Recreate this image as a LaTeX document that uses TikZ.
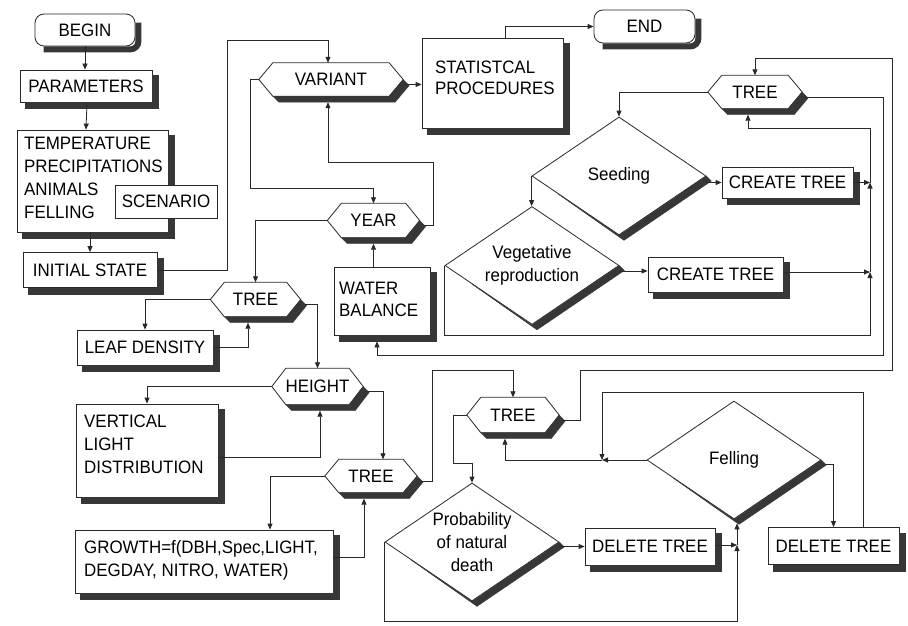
\documentclass[tikz,border=0pt]{standalone}
\usepackage{fontspec}
\setmainfont{Liberation Sans}[FakeStretch=0.94]
\usetikzlibrary{shapes.geometric,arrows.meta,calc}
\definecolor{shadowc}{RGB}{55,55,55}
\definecolor{linec}{RGB}{40,40,40}
\newcommand\dsz{\fontsize{18}{23}\selectfont}
\tikzset{
  outl/.style={line width=0.8pt, draw=linec},
  base/.style={font=\dsz, outl, fill=white, inner sep=0pt, text=black},
  box/.style={base, rectangle},
  rbox/.style={base, rectangle, rounded corners=9pt},
  hexn/.style={font=\dsz, rectangle, inner sep=0pt, text=black},
  dia/.style={base, diamond, aspect=1.47, minimum width=174pt, minimum height=118pt, align=center},
  txt/.style={font=\dsz, align=left, inner sep=0pt, text=black},
  shband/.style={fill=shadowc, draw=shadowc, line width=0.3pt},
  arr/.style={-{Triangle[length=6pt,width=5pt]}, line width=0.8pt, draw=linec}
}
% shadow bands drawn outside the shapes (right and lower sides)
\newcommand\BoxShadow[1]{\path[shband] ($(#1.north east)+(0pt,-6pt)$) -- ($(#1.north east)+(6pt,-6pt)$) -- ($(#1.south east)+(6pt,-6pt)$) -- ($(#1.south west)+(6pt,-6pt)$) -- ($(#1.south west)+(6pt,0pt)$) -- (#1.south east) -- cycle;}
\newcommand\RBoxShadow[1]{\draw[draw=shadowc, line width=6pt, rounded corners=8pt] ($(#1.north east)+(3pt,-9pt)$) -- ($(#1.south east)+(3pt,-3pt)$) -- ($(#1.south west)+(9pt,-3pt)$);}
\newcommand\DiaShadow[1]{\path[shband] (#1.east) -- ($(#1.east)+(5pt,-5pt)$) -- ($(#1.south)+(5pt,-5pt)$) -- ($(#1.west)!0.3!(#1.south)$) -- (#1.south) -- cycle;}
\newcommand\HexShadow[1]{\path[shband] (#1.east) -- ($(#1.east)+(6pt,-6pt)$) -- ($(#1.south east)+(-8pt,-6pt)$) -- ($(#1.south west)+(20pt,-6pt)$) -- ($(#1.south west)+(14pt,0pt)$) -- ($(#1.south east)+(-14pt,0pt)$) -- cycle;}
\newcommand\HexDraw[1]{\draw[outl] (#1.west) -- ($(#1.north west)+(14pt,0pt)$) -- ($(#1.north east)+(-14pt,0pt)$) -- (#1.east) -- ($(#1.south east)+(-14pt,0pt)$) -- ($(#1.south west)+(14pt,0pt)$) -- cycle;}
\begin{document}
\begin{tikzpicture}[x=1pt,y=-1pt]
\useasboundingbox (0,0) rectangle (908,626);
% left column
\node[rbox, minimum width=100pt, minimum height=32pt] (begin) at (85,30) {BEGIN};
\node[box, minimum width=132pt, minimum height=32pt] (params) at (86,86) {PARAMETERS};
\node[box, minimum width=151pt, minimum height=102pt] (climate) at (92.5,181) {};
\BoxShadow{climate}
\node[txt, anchor=north west] (climateT) at (24,136.5) {TEMPERATURE\\PRECIPITATIONS\\ANIMALS\\FELLING};
\node[box, minimum width=102pt, minimum height=33pt] (scen) at (166,201.5) {SCENARIO};
\node[box, minimum width=134pt, minimum height=35pt] (initial) at (90,270) {INITIAL STATE};
% top
\node[hexn, minimum width=144pt, minimum height=33pt] (variant) at (331,79.5) {VARIANT};
\node[box, minimum width=141pt, minimum height=90pt] (stat) at (492.5,83) {};
\node[txt, anchor=north west] (statT) at (435,60.5) {STATISTCAL\\[-2pt]PROCEDURES};
\node[rbox, minimum width=101pt, minimum height=33pt] (end) at (644.5,26.5) {END};
% right top
\node[hexn, minimum width=94pt, minimum height=33pt] (treeA) at (755,92) {TREE};
\node[dia] (seed) at (619,176) {Seeding};
\node[box, minimum width=131pt, minimum height=31pt] (create1) at (787.5,182.5) {CREATE TREE};
\node[dia] (veg) at (532,265.5) {Vegetative\\reproduction};
\node[box, minimum width=135pt, minimum height=35pt] (create2) at (715.5,274.5) {CREATE TREE};
% middle
\node[hexn, minimum width=92pt, minimum height=34pt] (year) at (373.5,220.5) {YEAR};
\node[box, minimum width=96pt, minimum height=68pt] (water) at (382,301) {};
\node[txt, anchor=north west] (waterT) at (339,281.5) {WATER\\[-1pt]BALANCE};
\node[hexn, minimum width=90pt, minimum height=34pt] (tree2) at (255.5,299.5) {TREE};
\node[box, minimum width=136pt, minimum height=35pt] (leaf) at (145,347.5) {LEAF DENSITY};
\node[hexn, minimum width=91pt, minimum height=36pt] (height) at (317.5,386.5) {HEIGHT};
\node[box, minimum width=142pt, minimum height=93pt] (vertical) at (147,450.5) {};
\node[txt, anchor=north west] (verticalT) at (84,414.5) {VERTICAL\\LIGHT\\DISTRIBUTION};
\node[hexn, minimum width=92pt, minimum height=33pt] (tree3) at (371,476) {TREE};
\node[box, minimum width=258pt, minimum height=63pt] (growth) at (204,561.5) {};
\node[txt, anchor=north west] (growthT) at (84,540) {GROWTH=f(DBH,Spec,LIGHT,\\DEGDAY, NITRO, WATER)};
% bottom right
\node[hexn, minimum width=92pt, minimum height=35pt] (tree4) at (513,415) {TREE};
\node[dia] (prob) at (472,542) {Probability\\of natural\\death};
\node[box, minimum width=130pt, minimum height=37pt] (del1) at (650,546.5) {DELETE TREE};
\node[dia] (fell) at (734,460) {Felling};
\node[box, minimum width=131pt, minimum height=37pt] (del2) at (833.5,546) {DELETE TREE};
% hexagon outlines and shadows
\HexDraw{variant} \HexDraw{treeA} \HexDraw{year} \HexDraw{tree2}
\HexDraw{height} \HexDraw{tree3} \HexDraw{tree4}
\HexShadow{variant} \HexShadow{treeA} \HexShadow{year} \HexShadow{tree2}
\HexShadow{height} \HexShadow{tree3} \HexShadow{tree4}
\RBoxShadow{begin} \RBoxShadow{end}
\BoxShadow{params} \BoxShadow{initial} \BoxShadow{stat}
\BoxShadow{create1} \BoxShadow{create2} \BoxShadow{water} \BoxShadow{leaf}
\BoxShadow{vertical} \BoxShadow{growth} \BoxShadow{del1} \BoxShadow{del2}
\DiaShadow{seed} \DiaShadow{veg} \DiaShadow{prob} \DiaShadow{fell}
% junctions
\coordinate (j1) at (870,182.5);
\coordinate (j2) at (870,272);
\coordinate (j3) at (737,545);
\coordinate (j4) at (602,460);
% connectors
\draw[arr] (begin.south) -- (begin.south |- params.north);
\draw[arr] (params.south -| 87,0) -- (params.north |- climate.north);
\draw[arr] (climate.south -| 90,0) -- (initial.north);
\draw[arr] (initial.east) -| (227,40) -| (variant.north -| 328,0);
\draw[arr] ([shift={(3pt,-5pt)}]variant.east) -- (stat.west |- 0,84.5);
\draw[arr] (stat.north -| 505,0) |- (end.west);
\draw[arr] (variant.west) -| (250,188) -| (year.north);
\draw[arr] ([shift={(4pt,-5pt)}]year.east) -| (433,162) -| ([shift={(-3pt,-6pt)}]variant.south);
\draw[arr] (year.west) -| (tree2.north);
\draw[arr] (water.north -| year.south) -- ([yshift=-6pt]year.south);
\draw[arr] ([shift={(4pt,-5pt)}]treeA.east) -| (883,355) -| ([shift={(-5pt,-6pt)}]water.south);
\draw[arr] (tree2.west) -| (leaf.north);
\draw[arr] (leaf.east) -| ([shift={(-7.5pt,-6pt)}]tree2.south);
\draw[arr] ([shift={(4pt,-5pt)}]tree2.east) -| (height.north);
\draw[arr] (height.west) -| (vertical.north);
\draw[arr] (vertical.east |- 0,457) -| ([shift={(2.5pt,-6pt)}]height.south);
\draw[arr] ([shift={(4pt,-5pt)}]height.east) -| (tree3.north -| 383,0);
\draw[arr] (tree3.west) -| (growth.north -| 270,0);
\draw[arr] (growth.east |- 0,557) -| ([shift={(-7pt,-6pt)}]tree3.south);
\draw[arr] ([shift={(4pt,-5pt)}]tree3.east) -| (432,370) -| (tree4.north);
\draw[arr] ([shift={(4pt,-5pt)}]tree4.east) -| (580,370) -| (892,58) -| (treeA.north);
\draw[arr] (treeA.west) -| (seed.north);
\draw[arr] (create1.west -| seed.east) -- (create1.west);
\draw[arr] (create1.east) -- (j1);
\draw[arr] (veg.east |- 0,271) -- (create2.west |- 0,271);
\draw[arr] (create2.east |- j2) -- (j2);
\draw[arr] (seed.west) -- (seed.west |- veg.north);
\draw[arr] (veg.west) |- (870,335) -- (j2);
\draw[arr] (j2) -- (j1);
\draw[arr] (j1) -- (870,128) -| ([shift={(-7pt,-6pt)}]treeA.south);
\draw[arr] (tree4.west) -| (453,463) -| (prob.north);
\draw[arr] (del1.west -| prob.east) -- (del1.west);
\draw[arr] (del1.east |- j3) -- (j3);
\draw[arr] (prob.west) |- (737,621) -- (j3);
\draw[arr] (j3) -- ([shift={(3pt,-4pt)}]fell.south);
\draw[arr] (fell.west) -- (j4);
\draw[arr] (j4) -| ([shift={(-8pt,-6pt)}]tree4.south);
\draw[arr] ([shift={(4pt,-4pt)}]fell.east) -| (del2.north);
\draw[arr] (del2.north -| 863,0) |- (602,392) -- (j4);
\end{tikzpicture}
\end{document}
